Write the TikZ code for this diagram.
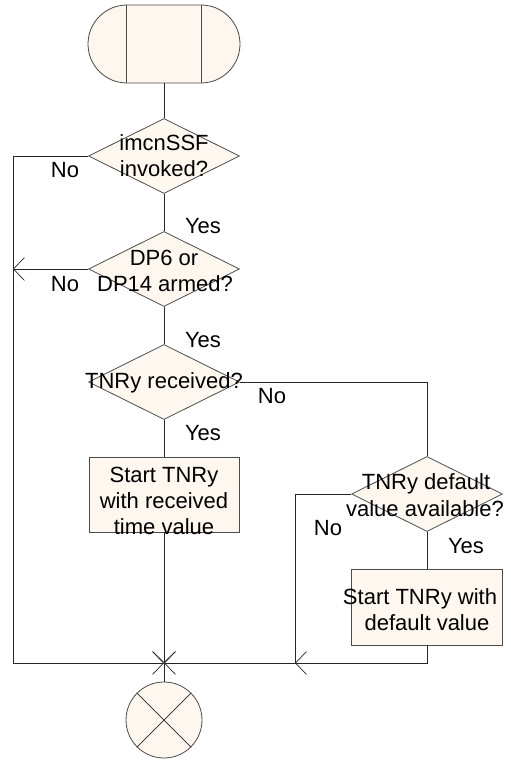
\documentclass[tikz,border=0pt]{standalone}
\usepackage{fontspec}
\setmainfont{Liberation Sans}
\usetikzlibrary{shapes.geometric,shapes.misc,arrows.meta}
\definecolor{shapefill}{RGB}{253,247,240}
\tikzset{
  shp/.style={draw=black!70, fill=shapefill, line width=0.8pt, inner sep=0pt},
  dia/.style={shp, diamond, minimum width=151pt, minimum height=75pt},
  boxnode/.style={shp, rectangle, minimum width=151pt, minimum height=76pt},
  conn/.style={draw=black!85, line width=0.7pt},
  arr/.style={conn, -{Straight Barb[length=11pt,width=23pt]}},
  txt/.style={anchor=base, inner sep=0pt, font=\fontsize{22}{26}\selectfont},
}
\begin{document}
\begin{tikzpicture}[x=1pt, y=-1pt]
\useasboundingbox (0,0) rectangle (511,760);
% shapes
\node[shp, rounded rectangle, minimum width=152pt, minimum height=78pt] (start) at (164,44) {};
\draw[draw=black!70, line width=0.8pt] ([xshift=-38pt]start.north) -- ([xshift=-38pt]start.south);
\draw[draw=black!70, line width=0.8pt] ([xshift=37pt]start.north) -- ([xshift=37pt]start.south);
\node[dia] (d1) at (164,156) {};
\node[dia] (d2) at (164,269) {};
\node[dia] (d3) at (164,382) {};
\node[boxnode, minimum width=150pt, minimum height=75pt] (b1) at (164,494.5) {};
\node[dia] (d4) at (427,494) {};
\node[boxnode] (b2) at (427,607) {};
\node[shp, circle, minimum size=76pt] (e) at (164,720) {};
\draw[draw=black!85, line width=0.7pt] (e.45) -- (e.225) (e.135) -- (e.315);
% coordinates
\coordinate (J) at (164,663);
\coordinate (L1) at (13,156);
\coordinate (L2) at (13,663);
\coordinate (L3) at (13,269);
\coordinate (R1) at (427,382);
\coordinate (M1) at (295,494);
\coordinate (M2) at (295,663);
\coordinate (R2) at (427,663);
% connectors
\draw[conn] (start.south) -- (d1.north);
\draw[conn] (d1.south) -- (d2.north);
\draw[conn] (d2.south) -- (d3.north);
\draw[conn] (d3.south) -- (b1.north);
\draw[arr] (d1.west) -- (L1) -- (L2) -- (J);
\draw[arr] (d2.west) -- (L3);
\draw[conn] (d3.east) -- (R1) -- (d4.north);
\draw[conn] (d4.south) -- (b2.north);
\draw[arr] (b1.south) -- (J);
\draw[arr] (d4.west) -- (M1) -- (M2) -- (J);
\draw[arr] (b2.south) -- (R2) -- (M2);
\draw[conn] (J) -- (e.north);
% texts
\node[txt] (d1a) at (164,150) {imcnSSF};
\node[txt] (d1b) at (164,176) {invoked?};
\node[txt] (d2a) at (164,265) {DP6 or};
\node[txt] (d2b) at (165,291) {DP14 armed?};
\node[txt] (d3a) at (164,388) {TNRy received?};
\node[txt] (b1a) at (164,482) {Start TNRy};
\node[txt] (b1b) at (164,508) {with received};
\node[txt] (b1c) at (164,534) {time value};
\node[txt] (d4a) at (426,489) {TNRy default};
\node[txt] (d4b) at (425,516) {value available?};
\node[txt] (b2a) at (420,604) {Start TNRy with};
\node[txt] (b2b) at (427,630) {default value};
% labels
\node[txt] (n1) at (65,177) {No};
\node[txt] (y1) at (203,233) {Yes};
\node[txt] (n2) at (65,291) {No};
\node[txt] (y2) at (203,347) {Yes};
\node[txt] (n3) at (272,403) {No};
\node[txt] (y3) at (203,440) {Yes};
\node[txt] (n4) at (328,535) {No};
\node[txt] (y4) at (466,553) {Yes};
\end{tikzpicture}
\end{document}
